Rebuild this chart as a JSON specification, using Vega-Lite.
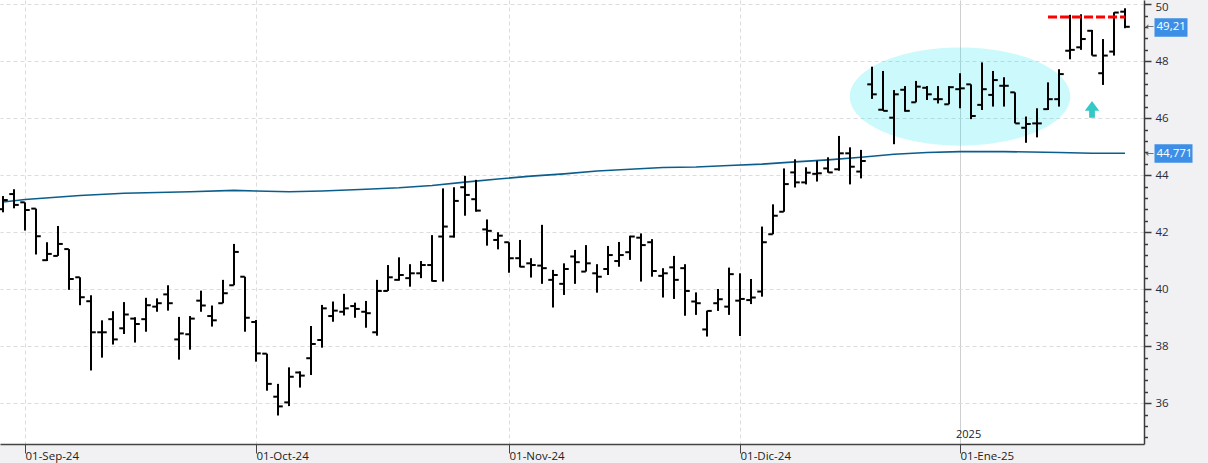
{
  "$schema": "https://vega.github.io/schema/vega-lite/v6.json",
  "width": 1144,
  "height": 444,
  "autosize": {"type": "none"},
  "padding": {"left": 0, "top": 0, "right": 64, "bottom": 19},
  "background": "#f1f1f3",
  "config": {
    "view": {"fill": "white", "stroke": null},
    "axis": {"labelFont": "Open Sans", "title": null},
    "text": {"font": "Open Sans"}
  },
  "datasets": {
    "ohlc": [
      {"date":"2024-08-29","o":42.81,"h":43.27,"l":42.70,"c":43.13},
      {"date":"2024-08-30","o":43.34,"h":43.51,"l":42.84,"c":42.96},
      {"date":"2024-09-02","o":43.05,"h":43.05,"l":42.06,"c":42.78},
      {"date":"2024-09-03","o":42.83,"h":42.83,"l":41.22,"c":41.86},
      {"date":"2024-09-04","o":41.02,"h":41.65,"l":40.99,"c":41.24},
      {"date":"2024-09-05","o":41.17,"h":42.22,"l":41.17,"c":41.59},
      {"date":"2024-09-06","o":41.41,"h":41.41,"l":39.98,"c":40.36},
      {"date":"2024-09-09","o":40.42,"h":40.42,"l":39.44,"c":39.72},
      {"date":"2024-09-10","o":39.58,"h":39.79,"l":37.15,"c":38.49},
      {"date":"2024-09-11","o":38.49,"h":38.91,"l":37.60,"c":38.49},
      {"date":"2024-09-12","o":38.95,"h":39.23,"l":38.06,"c":38.24},
      {"date":"2024-09-13","o":38.63,"h":39.55,"l":38.43,"c":39.11},
      {"date":"2024-09-16","o":38.97,"h":39.02,"l":38.13,"c":38.78},
      {"date":"2024-09-17","o":38.95,"h":39.70,"l":38.51,"c":39.44},
      {"date":"2024-09-18","o":39.39,"h":39.68,"l":39.21,"c":39.51},
      {"date":"2024-09-19","o":39.82,"h":40.14,"l":39.25,"c":39.51},
      {"date":"2024-09-20","o":38.24,"h":39.03,"l":37.53,"c":38.45},
      {"date":"2024-09-23","o":38.42,"h":39.06,"l":37.88,"c":38.97},
      {"date":"2024-09-24","o":39.60,"h":39.95,"l":39.21,"c":39.43},
      {"date":"2024-09-25","o":39.06,"h":39.43,"l":38.69,"c":38.91},
      {"date":"2024-09-26","o":39.51,"h":40.33,"l":39.51,"c":39.86},
      {"date":"2024-09-27","o":40.14,"h":41.59,"l":40.14,"c":41.31},
      {"date":"2024-09-30","o":40.44,"h":40.44,"l":38.51,"c":39.00},
      {"date":"2024-10-01","o":38.85,"h":38.92,"l":37.46,"c":37.75},
      {"date":"2024-10-02","o":37.74,"h":37.74,"l":36.44,"c":36.68},
      {"date":"2024-10-03","o":36.23,"h":36.68,"l":35.57,"c":35.89},
      {"date":"2024-10-04","o":36.03,"h":37.26,"l":35.90,"c":36.93},
      {"date":"2024-10-07","o":37.08,"h":37.12,"l":36.55,"c":36.97},
      {"date":"2024-10-08","o":37.58,"h":38.71,"l":36.99,"c":38.08},
      {"date":"2024-10-09","o":38.22,"h":39.45,"l":37.95,"c":39.33},
      {"date":"2024-10-10","o":39.06,"h":39.57,"l":38.86,"c":39.25},
      {"date":"2024-10-11","o":39.21,"h":39.84,"l":39.08,"c":39.33},
      {"date":"2024-10-14","o":39.41,"h":39.53,"l":39.00,"c":39.31},
      {"date":"2024-10-15","o":39.21,"h":39.59,"l":38.65,"c":39.16},
      {"date":"2024-10-16","o":38.49,"h":40.33,"l":38.37,"c":39.94},
      {"date":"2024-10-17","o":39.94,"h":40.85,"l":39.94,"c":40.42},
      {"date":"2024-10-18","o":40.33,"h":41.12,"l":40.30,"c":40.50},
      {"date":"2024-10-21","o":40.39,"h":40.88,"l":40.09,"c":40.56},
      {"date":"2024-10-22","o":40.56,"h":40.99,"l":40.39,"c":40.85},
      {"date":"2024-10-23","o":40.85,"h":41.90,"l":40.27,"c":40.29},
      {"date":"2024-10-24","o":41.85,"h":43.54,"l":40.27,"c":42.20},
      {"date":"2024-10-25","o":41.85,"h":43.58,"l":41.81,"c":43.10},
      {"date":"2024-10-28","o":43.58,"h":43.98,"l":42.58,"c":43.31},
      {"date":"2024-10-29","o":43.16,"h":43.84,"l":42.72,"c":42.76},
      {"date":"2024-10-30","o":42.10,"h":42.45,"l":41.53,"c":42.05},
      {"date":"2024-10-31","o":41.73,"h":42.00,"l":41.40,"c":41.88},
      {"date":"2024-11-01","o":41.65,"h":41.65,"l":40.58,"c":41.09},
      {"date":"2024-11-04","o":41.09,"h":41.73,"l":40.77,"c":40.79},
      {"date":"2024-11-05","o":40.91,"h":41.09,"l":40.41,"c":40.85},
      {"date":"2024-11-06","o":40.83,"h":42.26,"l":40.19,"c":40.74},
      {"date":"2024-11-07","o":40.33,"h":40.68,"l":39.36,"c":40.50},
      {"date":"2024-11-08","o":40.19,"h":40.91,"l":39.80,"c":40.71},
      {"date":"2024-11-11","o":41.15,"h":41.38,"l":40.19,"c":40.95},
      {"date":"2024-11-12","o":40.62,"h":41.55,"l":40.62,"c":40.91},
      {"date":"2024-11-13","o":40.56,"h":40.88,"l":39.88,"c":40.44},
      {"date":"2024-11-14","o":40.71,"h":41.52,"l":40.50,"c":41.20},
      {"date":"2024-11-15","o":40.99,"h":41.66,"l":40.79,"c":41.20},
      {"date":"2024-11-18","o":41.30,"h":41.88,"l":41.03,"c":41.85},
      {"date":"2024-11-19","o":41.81,"h":41.96,"l":40.27,"c":41.55},
      {"date":"2024-11-20","o":41.65,"h":41.76,"l":40.44,"c":40.64},
      {"date":"2024-11-21","o":40.47,"h":40.74,"l":39.71,"c":40.56},
      {"date":"2024-11-22","o":40.77,"h":41.17,"l":39.66,"c":40.33},
      {"date":"2024-11-25","o":40.74,"h":40.88,"l":39.07,"c":39.94},
      {"date":"2024-11-26","o":39.57,"h":39.89,"l":39.10,"c":39.51},
      {"date":"2024-11-27","o":38.59,"h":39.25,"l":38.34,"c":39.24},
      {"date":"2024-11-28","o":39.51,"h":40.01,"l":39.24,"c":39.65},
      {"date":"2024-11-29","o":39.39,"h":40.76,"l":39.10,"c":40.53},
      {"date":"2024-12-02","o":39.60,"h":40.56,"l":38.36,"c":39.66},
      {"date":"2024-12-03","o":39.62,"h":40.36,"l":39.48,"c":39.71},
      {"date":"2024-12-04","o":39.92,"h":42.20,"l":39.74,"c":41.65},
      {"date":"2024-12-05","o":41.93,"h":42.98,"l":41.93,"c":42.58},
      {"date":"2024-12-06","o":42.72,"h":44.24,"l":42.72,"c":43.69},
      {"date":"2024-12-09","o":44.10,"h":44.56,"l":43.57,"c":43.75},
      {"date":"2024-12-10","o":43.75,"h":44.28,"l":43.68,"c":44.09},
      {"date":"2024-12-11","o":44.05,"h":44.51,"l":43.78,"c":44.07},
      {"date":"2024-12-12","o":44.24,"h":44.63,"l":44.09,"c":44.10},
      {"date":"2024-12-13","o":44.21,"h":45.38,"l":44.16,"c":44.77},
      {"date":"2024-12-16","o":44.77,"h":44.98,"l":43.68,"c":44.30},
      {"date":"2024-12-17","o":44.13,"h":44.89,"l":43.89,"c":44.50},
      {"date":"2024-12-18","o":47.19,"h":47.81,"l":46.68,"c":46.84},
      {"date":"2024-12-19","o":46.30,"h":47.66,"l":46.26,"c":46.26},
      {"date":"2024-12-20","o":46.02,"h":46.99,"l":45.09,"c":46.84},
      {"date":"2024-12-23","o":47.00,"h":47.13,"l":46.23,"c":46.26},
      {"date":"2024-12-24","o":46.56,"h":47.31,"l":46.56,"c":47.11},
      {"date":"2024-12-27","o":47.07,"h":47.13,"l":46.64,"c":46.84},
      {"date":"2024-12-30","o":46.67,"h":47.13,"l":46.52,"c":46.67},
      {"date":"2024-12-31","o":46.49,"h":47.13,"l":46.49,"c":47.09},
      {"date":"2025-01-02","o":47.02,"h":47.58,"l":46.35,"c":47.05},
      {"date":"2025-01-03","o":47.19,"h":47.19,"l":45.97,"c":46.08},
      {"date":"2025-01-06","o":46.47,"h":47.96,"l":46.29,"c":47.02},
      {"date":"2025-01-07","o":46.82,"h":47.66,"l":46.41,"c":47.34},
      {"date":"2025-01-08","o":47.14,"h":47.44,"l":46.41,"c":47.14},
      {"date":"2025-01-09","o":46.91,"h":46.91,"l":45.82,"c":45.82},
      {"date":"2025-01-10","o":45.67,"h":46.06,"l":45.14,"c":45.80},
      {"date":"2025-01-13","o":45.82,"h":46.35,"l":45.33,"c":45.82},
      {"date":"2025-01-14","o":46.32,"h":47.26,"l":46.29,"c":46.67},
      {"date":"2025-01-15","o":46.67,"h":47.72,"l":46.41,"c":47.55},
      {"date":"2025-01-16","o":48.37,"h":49.63,"l":48.07,"c":48.40},
      {"date":"2025-01-17","o":48.49,"h":49.65,"l":48.40,"c":48.78},
      {"date":"2025-01-20","o":49.07,"h":49.10,"l":48.20,"c":48.20},
      {"date":"2025-01-21","o":47.58,"h":48.78,"l":47.17,"c":48.20},
      {"date":"2025-01-22","o":48.34,"h":49.72,"l":48.20,"c":49.71},
      {"date":"2025-01-23","o":49.74,"h":49.86,"l":49.16,"c":49.21}
    ],
    "ma": [
      {"date":"2024-08-29","ma":43.06},
      {"date":"2024-09-02","ma":43.15},
      {"date":"2024-09-09","ma":43.29},
      {"date":"2024-09-13","ma":43.37},
      {"date":"2024-09-23","ma":43.42},
      {"date":"2024-09-27","ma":43.47},
      {"date":"2024-10-01","ma":43.45},
      {"date":"2024-10-04","ma":43.42},
      {"date":"2024-10-09","ma":43.45},
      {"date":"2024-10-15","ma":43.51},
      {"date":"2024-10-18","ma":43.56},
      {"date":"2024-10-23","ma":43.64},
      {"date":"2024-10-28","ma":43.76},
      {"date":"2024-10-31","ma":43.87},
      {"date":"2024-11-05","ma":43.97},
      {"date":"2024-11-08","ma":44.05},
      {"date":"2024-11-13","ma":44.15},
      {"date":"2024-11-18","ma":44.21},
      {"date":"2024-11-21","ma":44.27},
      {"date":"2024-11-26","ma":44.29},
      {"date":"2024-11-29","ma":44.34},
      {"date":"2024-12-04","ma":44.39},
      {"date":"2024-12-09","ma":44.47},
      {"date":"2024-12-12","ma":44.54},
      {"date":"2024-12-17","ma":44.63},
      {"date":"2024-12-20","ma":44.74},
      {"date":"2024-12-27","ma":44.80},
      {"date":"2025-01-02","ma":44.83},
      {"date":"2025-01-08","ma":44.83},
      {"date":"2025-01-15","ma":44.80},
      {"date":"2025-01-20","ma":44.77},
      {"date":"2025-01-23","ma":44.771}
    ],
    "notes": [
      {"what":"range","date":"2025-01-02","price":46.76},
      {"what":"arrow","date":"2025-01-20","price":46.31},
      {"what":"year","date":"2025-01-02","price":34.89,"label":"2025"},
      {"what":"resistance","date":"2025-01-14","date2":"2025-01-23","price":49.55}
    ]
  },
  "resolve": {"axis": {"y": "independent"}},
  "layer": [
    {
      "data": {"name": "notes"},
      "transform": [{"filter": "datum.what == 'range'"}],
      "mark": {"type": "point", "shape": "M -1 0 A 1 0.445 0 1 0 1 0 A 1 0.445 0 1 0 -1 0 Z", "size": 48664, "filled": true, "fill": "#00e4f0", "opacity": 0.2, "strokeWidth": 0},
      "encoding": {
        "x": {
          "field": "date", "type": "ordinal",
          "scale": {"type": "point", "padding": 1.1, "align": 0.137},
          "axis": {
            "values": ["2024-09-02","2024-10-01","2024-11-01","2024-12-02","2025-01-02"],
            "labelExpr": "datum.value == '2024-09-02' ? '01-Sep-24' : datum.value == '2024-10-01' ? '01-Oct-24' : datum.value == '2024-11-01' ? '01-Nov-24' : datum.value == '2024-12-02' ? '01-Dic-24' : '01-Ene-25'",
            "labelAngle": 0, "labelAlign": "left", "labelBaseline": "middle", "labelPadding": 3,
            "labelFontSize": 11.5, "labelColor": "#222222", "labelOverlap": false,
            "tickSize": 9, "tickColor": "#444444", "tickWidth": 1,
            "domainColor": "#444444", "domainWidth": 1.5,
            "grid": true,
            "gridColor": {"condition": {"test": "datum.value == '2025-01-02'", "value": "#cfcfcf"}, "value": "#dcdcdc"},
            "gridDash": {"condition": {"test": "datum.value == '2025-01-02'", "value": []}, "value": [4, 3]},
            "title": null
          }
        },
        "y": {"field": "price", "type": "quantitative", "scale": {"domain": [34.57, 50.15], "nice": false, "zero": false}, "axis": null}
      }
    },
    {
      "data": {"name": "ma"},
      "mark": {"type": "line", "color": "#0b5e8c", "strokeWidth": 1.6},
      "encoding": {
        "x": {"field": "date", "type": "ordinal"},
        "y": {
          "field": "ma", "type": "quantitative",
          "scale": {"domain": [34.57, 50.15], "nice": false, "zero": false},
          "axis": {"orient": "right", "values": [44.771], "labelExpr": "'44,771'", "offset": 10, "domain": false, "grid": false,
                   "tickSize": 38, "tickWidth": 18.5, "tickColor": "#3d8ee6", "labelColor": "white", "labelPadding": -36,
                   "labelFontSize": 11.5, "labelBaseline": "middle", "title": null}
        }
      }
    },
    {
      "data": {"name": "ohlc"},
      "mark": {"type": "rule", "color": "black", "strokeWidth": 2},
      "encoding": {
        "x": {"field": "date", "type": "ordinal"},
        "y": {
          "field": "l", "type": "quantitative",
          "scale": {"domain": [34.57, 50.15], "nice": false, "zero": false},
          "axis": {"orient": "right", "values": [36, 38, 40, 42, 44, 46, 48, 50], "grid": true, "gridDash": [4, 3], "gridColor": "#dcdcdc",
                   "domainColor": "#3c3c3c", "domainWidth": 1.5, "tickColor": "#3c3c3c", "tickSize": 7, "tickWidth": 1.5,
                   "labelPadding": 4, "labelFontSize": 11.5, "labelColor": "#2a2a3a", "labelBaseline": "middle",
                   "labelOffset": {"condition": {"test": "datum.value == 50", "value": 3}, "value": 0},
                   "title": null}
        },
        "y2": {"field": "h"}
      }
    },
    {
      "data": {"name": "ohlc"},
      "mark": {"type": "tick", "orient": "horizontal", "size": 4.5, "thickness": 2, "xOffset": -2.5, "color": "black", "opacity": 1},
      "encoding": {
        "x": {"field": "date", "type": "ordinal"},
        "y": {
          "field": "o", "type": "quantitative",
          "scale": {"domain": [34.57, 50.15], "nice": false, "zero": false},
          "axis": {"orient": "right", "values": [34.8, 35.2, 35.6, 36.4, 36.8, 37.2, 37.6, 38.4, 38.8, 39.2, 39.6, 40.4, 40.8, 41.2, 41.6, 42.4, 42.8, 43.2, 43.6, 44.4, 44.8, 45.2, 45.6, 46.4, 46.8, 47.2, 47.6, 48.4, 48.8, 49.2, 49.6],
                   "labels": false, "domain": false, "grid": false, "tickSize": 3.5, "tickWidth": 1.5, "tickColor": "#3c3c3c", "title": null}
        }
      }
    },
    {
      "data": {"name": "ohlc"},
      "mark": {"type": "tick", "orient": "horizontal", "size": 4.5, "thickness": 2, "xOffset": 2.5, "color": "black", "opacity": 1},
      "encoding": {
        "x": {"field": "date", "type": "ordinal"},
        "y": {
          "field": "c", "type": "quantitative",
          "scale": {"domain": [34.57, 50.15], "nice": false, "zero": false},
          "axis": {"orient": "right", "values": [49.21], "labelExpr": "'49,21'", "offset": 10, "domain": false, "grid": false,
                   "tickSize": 33, "tickWidth": 18.5, "tickColor": "#3d8ee6", "labelColor": "white", "labelPadding": -31,
                   "labelFontSize": 11.5, "labelBaseline": "middle", "title": null}
        }
      }
    },
    {
      "data": {"name": "notes"},
      "transform": [{"filter": "datum.what == 'resistance'"}],
      "mark": {"type": "rule", "color": "#ff0000", "strokeWidth": 3, "strokeDash": [9, 3]},
      "encoding": {
        "x": {"field": "date", "type": "ordinal"},
        "x2": {"field": "date2"},
        "y": {
          "field": "price", "type": "quantitative",
          "scale": {"domain": [34.57, 50.15], "nice": false, "zero": false},
          "axis": {"orient": "right", "values": [49.21, 44.771], "labelExpr": "'←'", "ticks": false, "domain": false, "grid": false,
                   "labelPadding": 1, "labelFont": "DejaVu Sans", "labelFontSize": 10, "labelColor": "#555555", "labelBaseline": "middle", "title": null}
        }
      }
    },
    {
      "data": {"name": "notes"},
      "transform": [{"filter": "datum.what == 'arrow'"}],
      "mark": {"type": "point", "shape": "M 0 -1.16 L 1 0.2 L 0.4 0.2 L 0.4 1.16 L -0.4 1.16 L -0.4 0.2 L -1 0.2 Z", "size": 207, "filled": true, "fill": "#34c9c6", "opacity": 1, "strokeWidth": 0},
      "encoding": {
        "x": {"field": "date", "type": "ordinal"},
        "y": {"field": "price", "type": "quantitative", "scale": {"domain": [34.57, 50.15], "nice": false, "zero": false}, "axis": null}
      }
    },
    {
      "data": {"name": "notes"},
      "transform": [{"filter": "datum.what == 'year'"}],
      "mark": {"type": "text", "align": "left", "baseline": "middle", "dx": -4, "fontSize": 11, "color": "#222222"},
      "encoding": {
        "x": {"field": "date", "type": "ordinal"},
        "y": {"field": "price", "type": "quantitative", "scale": {"domain": [34.57, 50.15], "nice": false, "zero": false}, "axis": null},
        "text": {"field": "label"}
      }
    }
  ]
}
